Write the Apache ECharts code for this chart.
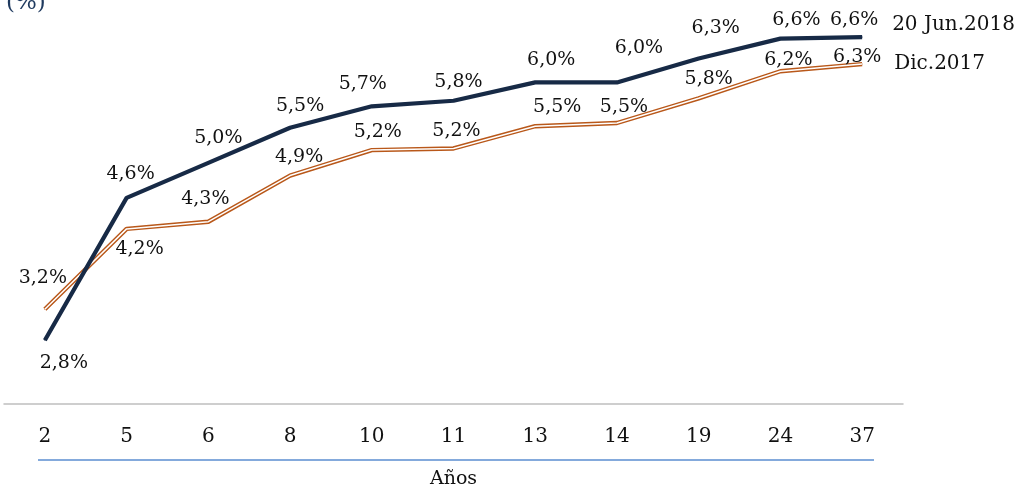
<!DOCTYPE html>
<html>
<head>
<meta charset="utf-8">
<script src="https://cdn.jsdelivr.net/npm/echarts@6/dist/echarts.min.js"></script>
<style>html,body{margin:0;padding:0;background:#fff;}#c{width:1018px;height:489px;}</style>
</head>
<body>
<div id="c"></div>
<script>
var categories = ['2','5','6','8','10','11','13','14','19','24','37'];
var jun2018 = [2.80, 4.59, 5.03, 5.47, 5.74, 5.81, 6.04, 6.04, 6.34, 6.59, 6.61];
var dic2017 = [3.19, 4.20, 4.29, 4.87, 5.19, 5.21, 5.49, 5.53, 5.84, 6.18, 6.27];
var seriesNames = ['20 Jun.2018', 'Dic.2017'];
var axisName = 'Años';
var unitLabel = '(%)';

// label offsets (layout only)
var junOff = [[19,23],[4,-24],[10,-25],[10,-22],[-9,-22],[5,-19],[16,-22],[22,-34],[17,-30],[16,-19],[-8,-17]];
var dicOff = [[-2,-31],[13,20],[-3,-23],[9,-18],[6,-18],[3,-17],[22,-19],[7,-16],[10,-19],[8,-11],[-5,-7]];

var FONT = 'DejaVu Serif';
function fmt(v){ return v.toFixed(1).replace('.', ',') + '%'; }
function withLabels(vals, offs){
  return vals.map(function(v,i){
    return {value: v, label: {show: true, position: 'inside', offset: offs[i], formatter: fmt(v)}};
  });
}

var chart = echarts.init(document.getElementById('c'));
chart.setOption({
  animation: false,
  title: {text: unitLabel, left: 6, top: -8, padding: 0, textStyle: {fontFamily: FONT, fontSize: 23, fontWeight: 'normal', color: '#1f3a5f'}},
  grid: {left: 4, right: 115, top: 6, bottom: 85, containLabel: false, outerBoundsMode: 'none'},
  xAxis: {
    type: 'category', data: categories, boundaryGap: true,
    axisLine: {show: true, lineStyle: {color: '#bfbfbf', width: 1.5}},
    axisTick: {show: false},
    axisLabel: {fontFamily: FONT, fontSize: 20, color: '#111', margin: 23},
    name: axisName, nameLocation: 'middle', nameGap: 66,
    nameTextStyle: {fontFamily: FONT, fontSize: 19, color: '#111'}
  },
  yAxis: {type: 'value', min: 2, max: 7, show: false, splitLine: {show: false}},
  graphic: [{type: 'line', shape: {x1: 38, y1: 460, x2: 874, y2: 460}, style: {stroke: '#5b8ed0', lineWidth: 1.5}}],
  series: [
    {
      name: seriesNames[1], type: 'line', data: withLabels(dic2017, dicOff),
      symbol: 'circle', symbolSize: 1, itemStyle: {color: '#b9581a'},
      lineStyle: {color: '#b9581a', width: 4.4},
      label: {fontFamily: FONT, fontSize: 19, color: '#111'},
      endLabel: {show: true, formatter: seriesNames[1], offset: [24, 0], fontFamily: FONT, fontSize: 20, color: '#111'},
      z: 2
    },
    {
      name: 'inner', type: 'line', data: dic2017, silent: true,
      symbol: 'none', lineStyle: {color: '#ffffff', width: 1.5}, z: 3
    },
    {
      name: seriesNames[0], type: 'line', data: withLabels(jun2018, junOff),
      symbol: 'circle', symbolSize: 1, itemStyle: {color: '#172a46'},
      lineStyle: {color: '#172a46', width: 4.2},
      label: {fontFamily: FONT, fontSize: 19, color: '#111'},
      endLabel: {show: true, formatter: seriesNames[0], offset: [22, -12], fontFamily: FONT, fontSize: 20, color: '#111'},
      z: 4
    }
  ]
});
</script>
</body>
</html>
